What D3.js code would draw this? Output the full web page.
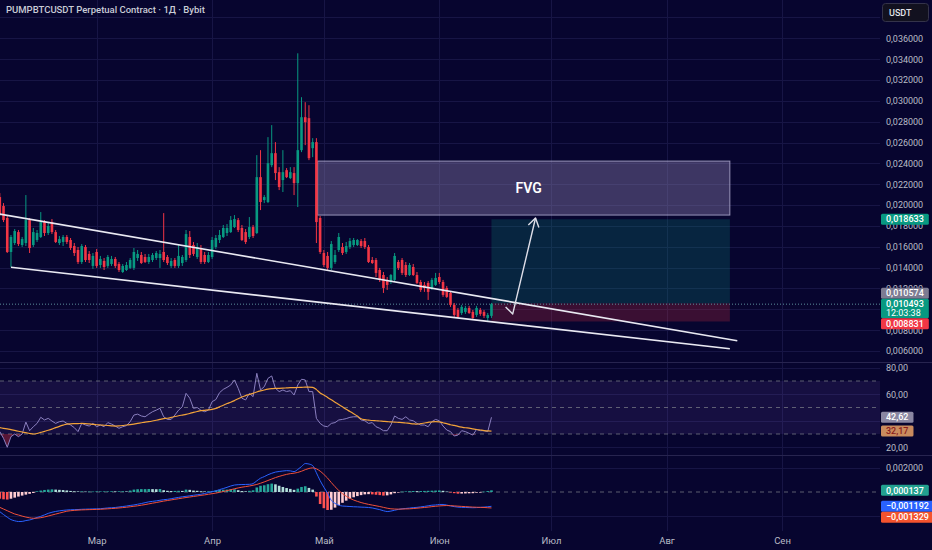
<!DOCTYPE html>
<html>
<head>
<meta charset="utf-8">
<script src="https://cdn.jsdelivr.net/npm/d3@7"></script>
<style>
  html, body { margin: 0; padding: 0; background: #07052f; }
  svg { display: block; }
</style>
</head>
<body>
<svg id="chart" width="932" height="550"></svg>
<script>
// daily candles, the first one is cut by the left edge
const firstDay = "2025-02-03";
const title = "PUMPBTCUSDT Perpetual Contract · 1Д · Bybit";
const countdown = "12:03:38";

const opens = [0.02077,0.01991,0.01876,0.0155,0.01636,0.01741,0.01617,0.01636,0.01856,0.01617,
0.01665,0.01694,0.01837,0.01732,0.01837,0.01741,0.01636,0.01646,0.01694,0.01665,
0.01607,0.01569,0.01454,0.01598,0.01531,0.01416,0.0155,0.01425,0.01464,0.01416,
0.01435,0.01483,0.01435,0.01358,0.01377,0.01397,0.01397,0.01492,0.01521,0.01502,
0.01454,0.01473,0.01492,0.01492,0.0155,0.01502,0.01416,0.01473,0.01416,0.01444,
0.01473,0.01694,0.01617,0.01502,0.01588,0.01521,0.01454,0.01502,0.01598,0.01665,
0.01694,0.01732,0.01741,0.01789,0.01856,0.0178,0.01741,0.01694,0.01789,0.01732,
0.02268,0.02048,0.02029,0.02383,0.02498,0.02316,0.0224,0.02335,0.02259,0.02307,
0.02211,0.02527,0.02843,0.02834,0.02546,0.02604,0.01876,0.0154,0.01512,0.01397,
0.01454,0.01569,0.01598,0.0155,0.01598,0.01617,0.01617,0.01655,0.01655,0.01598,
0.01473,0.01473,0.01377,0.01329,0.01282,0.01262,0.01282,0.01454,0.01473,0.01425,
0.01329,0.01406,0.01329,0.01262,0.01234,0.01253,0.01205,0.01234,0.0131,0.01262,
0.01205,0.01157,0.01042,0.00994,0.00965,0.00975,0.01013,0.00975,0.00946,0.00994,
0.00975,0.00917,0.00937];

const highs = [0.02115,0.02019,0.01904,0.01713,0.0177,0.01761,0.01694,0.02096,0.01876,0.0178,
0.01761,0.01933,0.01856,0.01837,0.01866,0.01761,0.01703,0.01713,0.01713,0.01684,
0.01636,0.01598,0.01626,0.01617,0.01559,0.0154,0.01579,0.01512,0.01492,0.01521,
0.01512,0.01502,0.01454,0.01435,0.01454,0.01492,0.01588,0.01569,0.0155,0.01531,
0.01531,0.0154,0.01559,0.01569,0.01923,0.01521,0.01492,0.01492,0.01617,0.01521,
0.01761,0.01751,0.01646,0.01636,0.01617,0.0155,0.0155,0.01694,0.01713,0.01761,
0.01809,0.01818,0.01895,0.01904,0.01876,0.01809,0.0177,0.01885,0.01809,0.02479,
0.02527,0.02096,0.02652,0.02767,0.02604,0.02364,0.02527,0.02355,0.02364,0.02364,
0.03456,0.03035,0.02987,0.02958,0.02642,0.02642,0.01895,0.01569,0.0155,0.01655,
0.01569,0.01732,0.01636,0.01646,0.01684,0.01684,0.01674,0.01674,0.01684,0.01617,
0.01502,0.01492,0.01397,0.01358,0.0131,0.01339,0.0154,0.01473,0.01492,0.01454,
0.01444,0.01435,0.01358,0.01282,0.01262,0.01272,0.01301,0.01349,0.01349,0.01282,
0.01224,0.01176,0.01061,0.01013,0.01042,0.01033,0.01033,0.00994,0.01033,0.01013,
0.00994,0.00965,0.01061];

const lows = [0.01895,0.01837,0.0154,0.01406,0.01617,0.01607,0.01598,0.01607,0.0154,0.01598,
0.01646,0.01684,0.01703,0.01713,0.01722,0.01636,0.01617,0.01607,0.01626,0.01569,
0.01512,0.01435,0.01435,0.01454,0.01444,0.01387,0.01397,0.01397,0.01377,0.01397,
0.01416,0.01397,0.01358,0.01349,0.01368,0.01387,0.01377,0.01464,0.01435,0.01444,
0.01435,0.01454,0.01473,0.01397,0.01454,0.01425,0.01397,0.01397,0.01397,0.01416,
0.01454,0.01492,0.01512,0.01483,0.01435,0.01435,0.01444,0.01483,0.01579,0.01636,
0.01684,0.01703,0.01732,0.0178,0.01741,0.01655,0.01626,0.01674,0.01684,0.01722,
0.01952,0.02019,0.02019,0.02364,0.0224,0.02144,0.02125,0.02259,0.02249,0.02096,
0.01981,0.02508,0.02575,0.02431,0.0246,0.01636,0.01531,0.01406,0.01377,0.01377,
0.01435,0.0155,0.01521,0.01531,0.01579,0.01598,0.01607,0.01588,0.01579,0.01444,
0.01435,0.0131,0.01262,0.01157,0.01186,0.01243,0.01272,0.01377,0.01329,0.0131,
0.0132,0.0132,0.01243,0.01167,0.01167,0.0109,0.01186,0.01224,0.01243,0.01119,
0.01109,0.01023,0.00927,0.00917,0.00946,0.00956,0.00956,0.00908,0.00927,0.00937,
0.00917,0.00889,0.00917];

const closes = [0.01914,0.01856,0.0155,0.01694,0.01751,0.01626,0.01674,0.01856,0.01588,0.01741,
0.01732,0.01837,0.01732,0.01799,0.01741,0.01646,0.01674,0.01694,0.01646,0.01588,
0.0154,0.01454,0.01607,0.01473,0.01473,0.01512,0.01416,0.01483,0.01406,0.01502,
0.01483,0.01416,0.01377,0.01416,0.01425,0.01473,0.0155,0.01531,0.01444,0.01454,
0.01502,0.01521,0.0154,0.01531,0.01473,0.01444,0.01464,0.01416,0.01512,0.01502,
0.01722,0.01521,0.01531,0.01598,0.01454,0.01454,0.01521,0.01665,0.01684,0.01713,
0.0178,0.0178,0.01856,0.01866,0.01761,0.01665,0.01646,0.01789,0.01703,0.02268,
0.02029,0.02077,0.02402,0.02498,0.02307,0.02173,0.02316,0.02268,0.02316,0.02211,
0.02527,0.02843,0.02795,0.0245,0.02604,0.01837,0.0155,0.01425,0.01397,0.01626,
0.01521,0.01694,0.0154,0.01607,0.01655,0.01665,0.01665,0.01607,0.01598,0.01454,
0.01444,0.01349,0.01282,0.01205,0.01234,0.01329,0.01512,0.01397,0.01349,0.01329,
0.01425,0.01329,0.01253,0.01186,0.01205,0.01167,0.01282,0.01301,0.01262,0.01138,
0.01119,0.01042,0.00946,0.00927,0.01023,0.01013,0.00965,0.00917,0.01013,0.00956,
0.00937,0.00946,0.010493];

const rsiValues = [31.8,26.7,20,28,30,28,30,39,32.5,35.5,
38,42.6,40.6,41.8,39.8,38,39.3,39.8,38,36.8,
34.8,31.8,38,36.8,36,38,35.5,36.8,35.5,38.6,
37.5,36,34.3,35.5,36.3,39.3,44.3,45,43.6,43,
45,46.8,48,49.4,43,41,41,44.3,48,50.6,
60.7,57,49.4,50,48,46.8,48,54.4,56,61.2,
63.7,65.2,67,70.8,64.5,57,55.7,60.7,58.2,75.8,
63.2,65.7,72,73.8,64.5,62,63.2,62,62.7,59.4,
67,71.3,70.8,62,62,41.8,38,36,35.5,38,
38.6,40.6,41,41.6,42.6,43,43,40.6,40,38,
38.6,35.5,34.3,32.5,32.5,36.8,43.6,41.8,41,43,
40.6,40,38,36.8,36.8,35.5,39.3,41,40,36,
33,31.8,28.5,29.2,32.5,31.8,30.5,29.2,33.5,32.5,
32.5,31.8,42.62];

const rsiMaValues = [34.8,34.3,33.8,33.3,32.7,32.1,31.5,31,30.4,30,
30.4,31.2,32,32.8,33.7,34.8,35.8,36.7,37.5,37.7,
37.8,37.9,38,37.9,37.6,37.3,37,36.8,36.6,36.4,
36.2,36,36.1,36.4,36.8,37.1,37.5,38,38.5,39,
39.3,39.8,40.4,41,41.6,41.9,42.5,43.2,43.8,44.3,
44.8,45.5,46.3,47,47.6,47.9,48.2,48.6,49.3,50.5,
51.7,53,54,55.2,56.6,57.9,59,59.8,60.7,61.7,
62.5,63.2,63.8,64.2,64.5,64.5,64.6,64.8,65,65,
65.1,65.2,65.4,65.4,65.2,63.5,61,59.4,57.6,55.8,
54,52.3,50.5,48.6,47,45.3,43.5,41.5,40.8,40.5,
40.2,40,39.8,39.6,39.4,39.1,39,38.8,38.6,38.3,
38,37.7,37.5,37.8,38.3,38.8,39.2,39.3,39.2,38.5,
37.8,37,36.5,35.8,35.2,34.7,34.4,33.9,33.4,33,
32.6,32.3,32.17];

const macdValues = [-0.00164,-0.00188,-0.0021,-0.0023,-0.0024,-0.00246,-0.00245,-0.00238,-0.00233,-0.00224,
-0.00212,-0.00203,-0.00191,-0.00178,-0.00169,-0.00162,-0.00157,-0.00153,-0.0015,-0.00148,
-0.00147,-0.00146,-0.00144,-0.00143,-0.00142,-0.00141,-0.0014,-0.00139,-0.00136,-0.00133,
-0.00131,-0.00129,-0.00125,-0.00121,-0.00117,-0.00112,-0.00108,-0.00102,-0.00096,-0.00089,
-0.00082,-0.00078,-0.00074,-0.00069,-0.00064,-0.00061,-0.00056,-0.0005,-0.00045,-0.0004,
-0.00036,-0.00032,-0.00027,-0.00023,-0.00019,-0.00012,-0.00005,0.00003,0.00009,0.0002,
0.00029,0.00039,0.0005,0.00058,0.00061,0.00062,0.00063,0.00064,0.0007,0.00093,
0.00115,0.00128,0.00144,0.00156,0.00166,0.00171,0.00175,0.00178,0.00176,0.0017,
0.00188,0.00212,0.00237,0.00233,0.0022,0.0016,0.00095,0.0004,-0.0001,-0.0007,
-0.00095,-0.0011,-0.00117,-0.00119,-0.00121,-0.00123,-0.00124,-0.00126,-0.00127,-0.00129,
-0.00133,-0.0014,-0.00147,-0.00156,-0.00163,-0.00159,-0.00152,-0.00145,-0.0014,-0.00137,
-0.00134,-0.0013,-0.00128,-0.00124,-0.0012,-0.00115,-0.0011,-0.00108,-0.00104,-0.00104,
-0.00109,-0.00116,-0.00122,-0.00126,-0.00128,-0.00129,-0.0013,-0.00131,-0.0013,-0.00128,
-0.00126,-0.00123,-0.001192];

const signalValues = [-0.00128,-0.00142,-0.00156,-0.0017,-0.00183,-0.00192,-0.00201,-0.00209,-0.00215,-0.00219,
-0.00218,-0.00214,-0.00208,-0.002,-0.00192,-0.00184,-0.00176,-0.00168,-0.0016,-0.00156,
-0.00153,-0.00151,-0.00149,-0.00148,-0.00147,-0.00146,-0.00145,-0.00144,-0.00142,-0.0014,
-0.00138,-0.00136,-0.00133,-0.0013,-0.00127,-0.00123,-0.00119,-0.00115,-0.0011,-0.00105,
-0.00099,-0.00093,-0.00088,-0.00082,-0.00076,-0.00071,-0.00066,-0.00061,-0.00056,-0.00051,
-0.00046,-0.00042,-0.00037,-0.00033,-0.00028,-0.00024,-0.00019,-0.00014,-0.00009,-0.00003,
0.00004,0.00011,0.00019,0.00027,0.00034,0.0004,0.00045,0.0005,0.00056,0.00063,
0.00073,0.00084,0.00096,0.00108,0.0012,0.0013,0.00139,0.00147,0.00153,0.00157,
0.00163,0.00173,0.00186,0.00196,0.00201,0.00193,0.00174,0.00147,0.00116,0.00079,
0.00044,0.00013,-0.00014,-0.00035,-0.00053,-0.00067,-0.00078,-0.00088,-0.00096,-0.00103,
-0.00109,-0.00115,-0.00121,-0.00128,-0.00135,-0.0014,-0.00142,-0.00143,-0.00142,-0.00141,
-0.0014,-0.00138,-0.00135,-0.00132,-0.00129,-0.00126,-0.00122,-0.00119,-0.00116,-0.00114,
-0.00113,-0.00114,-0.00116,-0.00118,-0.0012,-0.00122,-0.00124,-0.00126,-0.00127,-0.00128,
-0.00129,-0.00131,-0.001329];

const histValues = [-0.00056,-0.00061,-0.00063,-0.00056,-0.00047,-0.00038,-0.0003,-0.00022,-0.00015,-0.00008,
0.00006,0.00012,0.00017,0.0002,0.00022,0.0002,0.00018,0.00016,0.00013,0.00009,
0.00006,0.00005,0.00005,0.00004,0.00004,0.00004,0.00005,0.00005,0.00005,0.00005,
0.00006,0.00005,0.00006,0.00006,0.00005,0.00012,0.0002,0.00023,0.00024,0.00024,
0.00025,0.00024,0.00023,0.00025,0.00015,0.0001,0.00008,0.00009,0.0001,0.00009,
0.0002,0.00018,0.00012,0.0001,0.00006,0.00005,0.00006,0.00008,0.00013,0.00018,
0.00019,0.0002,0.00023,0.00023,0.00015,0.00008,0.00006,0.0001,0.00014,0.00038,
0.00052,0.00056,0.00065,0.0007,0.00064,0.00052,0.00042,0.00033,0.00026,0.00018,
0.00028,0.00042,0.00048,0.00034,0.0002,-0.00038,-0.001,-0.00135,-0.0015,-0.00148,
-0.0013,-0.0011,-0.0009,-0.00072,-0.00056,-0.00044,-0.00034,-0.00026,-0.0002,-0.00018,
-0.0002,-0.00023,-0.00026,-0.0003,-0.00028,-0.0002,-0.0001,-0.00002,0.00003,0.00005,
0.00007,0.00008,0.00007,0.00008,0.00009,0.0001,0.00011,0.00012,0.00013,0.0001,
0.00004,-0.00004,-0.0001,-0.00014,-0.00013,-0.00012,-0.00011,-0.0001,-0.00006,-0.00002,
0.00003,0.00008,0.000137];

const months = ["2025-03-01","2025-04-01","2025-05-01","2025-06-01","2025-07-01","2025-08-01","2025-09-01"];
const monthNames = ["Мар","Апр","Май","Июн","Июл","Авг","Сен"];
const priceTicks = [0.006,0.008,0.01,0.012,0.014,0.016,0.018,0.02,0.022,0.024,0.026,0.028,0.03,0.032,0.034,0.036,0.038];
const rsiTicks = [20, 40, 60, 80];
const rsiLevels = [70, 50, 30];
const macdTicks = [-0.002, 0, 0.002];

// drawings on the chart (date, price)
const upperTrend = [["2025-02-03T00:00", 0.01913], ["2025-08-20T00:00", 0.00699]];
const lowerTrend = [["2025-02-06T00:00", 0.01403], ["2025-08-18T00:00", 0.00621]];
const fvg = { from: "2025-04-29T08:00", to: "2025-08-18T00:00", top: 0.02422, bottom: 0.01904, label: "FVG", labelAt: "2025-06-25T00:00" };
const position = { from: "2025-06-15T00:00", to: "2025-08-18T00:00", entry: 0.010574, target: 0.018633, stop: 0.008831 };
const arrowPath = [["2025-06-18T19:00", 0.01023], ["2025-06-20T17:00", 0.00956], ["2025-06-26T20:00", 0.01876]];

// ---------------------------------------------------------------
const W = 932, H = 550, chartW = 880;
const font = "Roboto, 'Noto Sans', sans-serif";
const svg = d3.select("#chart").attr("font-family", font);
svg.append("rect").attr("width", W).attr("height", H).attr("fill", "#07052f");

const day = d3.utcParse("%Y-%m-%d");
const stamp = d3.utcParse("%Y-%m-%dT%H:%M");
const dates = d3.utcDay.range(day(firstDay), d3.utcDay.offset(day(firstDay), closes.length));
const bars = dates.map((date, i) => ({
  date, o: opens[i], h: highs[i], l: lows[i], c: closes[i],
  rsi: rsiValues[i], rsiMa: rsiMaValues[i],
  macd: macdValues[i], signal: signalValues[i], hist: histValues[i]
}));
const last = bars[bars.length - 1];

const x = d3.scaleUtc().domain([day("2025-02-03"), day("2025-09-01")]).range([-0.2, 782]);
const y = d3.scaleLinear().domain([0.006, 0.036]).range([351, 38.3]);
const yR = d3.scaleLinear().domain([30, 70]).range([434, 381]);
const yM = d3.scaleLinear().domain([-0.002, 0.002]).range([516, 468]);

const ru = d3.formatLocale({ decimal: ",", thousands: " ", grouping: [3], currency: ["", ""], minus: "\u2212" });
const fPrice = ru.format(".6f");
const fRsi = ru.format(".2f");

const defs = svg.append("defs");
function clip(id, y0, y1) {
  defs.append("clipPath").attr("id", id).append("rect")
    .attr("x", 0).attr("y", y0).attr("width", chartW).attr("height", y1 - y0);
}
clip("cMain", 0, 362);
clip("cRsi", 363, 455);
clip("cMacd", 456, 531);

// grid
const gridColor = "#171545";
const grid = svg.append("g").attr("stroke", gridColor).attr("stroke-width", 1);
grid.selectAll("line.v").data(months).join("line").attr("class", "v")
  .attr("x1", d => Math.round(x(day(d))) + 0.5).attr("x2", d => Math.round(x(day(d))) + 0.5)
  .attr("y1", 0).attr("y2", 531);
grid.selectAll("line.p").data(priceTicks).join("line").attr("class", "p")
  .attr("x1", 0).attr("x2", chartW)
  .attr("y1", d => Math.round(y(d)) + 0.5).attr("y2", d => Math.round(y(d)) + 0.5);
grid.selectAll("line.r").data(rsiTicks).join("line").attr("class", "r")
  .attr("x1", 0).attr("x2", chartW)
  .attr("y1", d => Math.round(yR(d)) + 0.5).attr("y2", d => Math.round(yR(d)) + 0.5);
grid.selectAll("line.m").data(macdTicks.filter(d => d !== 0)).join("line").attr("class", "m")
  .attr("x1", 0).attr("x2", chartW)
  .attr("y1", d => Math.round(yM(d)) + 0.5).attr("y2", d => Math.round(yM(d)) + 0.5);

// pane separators
svg.append("g").attr("stroke", "#27244f").selectAll("line").data([362.5, 455.5]).join("line")
  .attr("x1", 0).attr("x2", W).attr("y1", d => d).attr("y2", d => d);

// ---------------- main pane ----------------
const main = svg.append("g").attr("clip-path", "url(#cMain)");

// long position tool
const px0 = x(stamp(position.from)), px1 = x(stamp(position.to));
main.append("rect").attr("x", px0).attr("width", px1 - px0)
  .attr("y", y(position.target)).attr("height", y(position.entry) - y(position.target))
  .attr("fill", "rgba(8,153,129,0.22)");
main.append("rect").attr("x", px0).attr("width", px1 - px0)
  .attr("y", y(position.entry)).attr("height", y(position.stop) - y(position.entry))
  .attr("fill", "rgba(242,54,69,0.22)");

// FVG zone
const fx0 = x(stamp(fvg.from)), fx1 = x(stamp(fvg.to));
main.append("rect").attr("x", fx0).attr("width", fx1 - fx0)
  .attr("y", y(fvg.top)).attr("height", y(fvg.bottom) - y(fvg.top))
  .attr("fill", "rgba(135,125,172,0.42)").attr("stroke", "rgba(190,185,220,0.75)").attr("stroke-width", 1);
main.append("text").attr("x", x(stamp(fvg.labelAt))).attr("y", y((fvg.top + fvg.bottom) / 2))
  .attr("text-anchor", "middle").attr("dy", "0.36em")
  .attr("fill", "#ffffff").attr("font-size", 14).attr("font-weight", 600).text(fvg.label);

// last price line
main.append("line").attr("x1", 0).attr("x2", chartW)
  .attr("y1", y(last.c)).attr("y2", y(last.c))
  .attr("stroke", "#5d8f9c").attr("stroke-width", 1).attr("stroke-dasharray", "1,2");

// candles
const up = "#089981", down = "#f23645";
const candles = main.append("g").selectAll("g").data(bars).join("g")
  .attr("fill", d => d.c >= d.o ? up : down)
  .attr("stroke", d => d.c >= d.o ? up : down);
candles.append("line")
  .attr("x1", d => x(d.date)).attr("x2", d => x(d.date))
  .attr("y1", d => y(d.h)).attr("y2", d => y(d.l)).attr("stroke-width", 1);
candles.append("rect").attr("stroke", "none")
  .attr("x", d => x(d.date) - 1.3).attr("width", 2.6)
  .attr("y", d => y(Math.max(d.o, d.c)))
  .attr("height", d => Math.max(1, Math.abs(y(d.o) - y(d.c))));

// trend lines
const pLine = d3.line().x(d => x(stamp(d[0]))).y(d => y(d[1]));
main.selectAll("path.trend").data([upperTrend, lowerTrend]).join("path").attr("class", "trend")
  .attr("d", pLine).attr("fill", "none").attr("stroke", "#e9e9f2").attr("stroke-width", 1.6);

// arrow drawing
const pts = arrowPath.map(d => [x(stamp(d[0])), y(d[1])]);
const [ax, ay] = pts[pts.length - 2], [bx, by] = pts[pts.length - 1];
const ang = Math.atan2(by - ay, bx - ax), hl = 10, hs = Math.PI / 5.5;
main.append("path").attr("d", d3.line()(pts)).attr("fill", "none")
  .attr("stroke", "#dedee8").attr("stroke-width", 1.4).attr("stroke-linejoin", "round");
main.append("path").attr("d", d3.line()([
  [bx - hl * Math.cos(ang - hs), by - hl * Math.sin(ang - hs)], [bx, by],
  [bx - hl * Math.cos(ang + hs), by - hl * Math.sin(ang + hs)]
])).attr("fill", "none").attr("stroke", "#dedee8").attr("stroke-width", 1.4).attr("stroke-linejoin", "round");

// ---------------- RSI pane ----------------
const rsiG = svg.append("g").attr("clip-path", "url(#cRsi)");
rsiG.append("rect").attr("x", 0).attr("width", chartW)
  .attr("y", yR(70)).attr("height", yR(30) - yR(70)).attr("fill", "rgba(126,87,194,0.13)");
rsiG.selectAll("line.lvl").data(rsiLevels).join("line").attr("class", "lvl")
  .attr("x1", 0).attr("x2", chartW).attr("y1", d => yR(d)).attr("y2", d => yR(d))
  .attr("stroke", "#787b86").attr("stroke-opacity", 0.75).attr("stroke-dasharray", "4,4");
rsiG.append("path").datum(bars)
  .attr("d", d3.area().x(d => x(d.date)).y0(yR(30)).y1(d => yR(Math.min(d.rsi, 30))))
  .attr("fill", "rgba(242,54,69,0.35)");
rsiG.append("path").datum(bars)
  .attr("d", d3.line().x(d => x(d.date)).y(d => yR(d.rsi)))
  .attr("fill", "none").attr("stroke", "#8a7fbf").attr("stroke-width", 1);
rsiG.append("path").datum(bars)
  .attr("d", d3.line().curve(d3.curveMonotoneX).x(d => x(d.date)).y(d => yR(d.rsiMa)))
  .attr("fill", "none").attr("stroke", "#f2a33a").attr("stroke-width", 1.2);

// ---------------- MACD pane ----------------
const macdG = svg.append("g").attr("clip-path", "url(#cMacd)");
macdG.append("line").attr("x1", 0).attr("x2", chartW).attr("y1", yM(0)).attr("y2", yM(0))
  .attr("stroke", "#787b86").attr("stroke-opacity", 0.75).attr("stroke-dasharray", "4,4");
function histColor(d, i) {
  const prev = i > 0 ? bars[i - 1].hist : d.hist;
  if (d.hist >= 0) return d.hist >= prev ? "#26a69a" : "#b2dfdb";
  return d.hist <= prev ? "#ff5252" : "#ffcdd2";
}
macdG.selectAll("rect.h").data(bars).join("rect").attr("class", "h")
  .attr("x", d => x(d.date) - 1.3).attr("width", 2.6)
  .attr("y", d => Math.min(yM(0), yM(d.hist)))
  .attr("height", d => Math.max(0.6, Math.abs(yM(d.hist) - yM(0))))
  .attr("fill", histColor);
macdG.append("path").datum(bars)
  .attr("d", d3.line().curve(d3.curveMonotoneX).x(d => x(d.date)).y(d => yM(d.macd)))
  .attr("fill", "none").attr("stroke", "#2962ff").attr("stroke-width", 1);
macdG.append("path").datum(bars)
  .attr("d", d3.line().curve(d3.curveMonotoneX).x(d => x(d.date)).y(d => yM(d.signal)))
  .attr("fill", "none").attr("stroke", "#f0503a").attr("stroke-width", 1);

// ---------------- axes ----------------
function rightAxis(scale, ticks, fmt) {
  const g = svg.append("g").attr("transform", `translate(${chartW},0)`)
    .call(d3.axisRight(scale).tickValues(ticks).tickFormat(fmt).tickSize(0).tickPadding(6));
  g.select(".domain").remove();
  g.attr("font-family", font).attr("font-size", 9).attr("color", "#b8bbc6");
  g.selectAll(".tick").each(function (d) { this.__y = scale(d); });
  return g;
}
const axes = [rightAxis(y, priceTicks, fPrice), rightAxis(yR, rsiTicks, fRsi), rightAxis(yM, macdTicks, fPrice)];

const tAxis = svg.append("g").attr("transform", "translate(0,531)")
  .call(d3.axisBottom(x).tickValues(months.map(day)).tickFormat((d, i) => monthNames[i]).tickSize(0).tickPadding(6));
tAxis.select(".domain").remove();
tAxis.attr("font-family", font).attr("font-size", 9.5).attr("color", "#b8bbc6");

// currency box (covers the top of the price scale)
const covered = [[3.5, 21.5]];
svg.append("rect").attr("x", 882.5).attr("y", 3.5).attr("width", 46).attr("height", 18).attr("rx", 3)
  .attr("fill", "#12111f").attr("stroke", "#34334a");
svg.append("text").attr("x", 889).attr("y", 12.5).attr("dy", "0.35em").attr("font-size", 9)
  .attr("font-weight", 500).attr("fill", "#e2e4ea").text("USDT");

// title
svg.append("text").attr("x", 6).attr("y", 10).attr("dy", "0.35em").attr("font-size", 9.5)
  .attr("font-weight", 500).attr("fill", "#c9ccd6").text(title);

// value tags on the price scale
function spread(tags) {
  tags.forEach(t => { t.cy = t.y0; t.up = 5; t.down = t.sub ? 13.5 : 5; });
  const s = tags.slice().sort((a, b) => a.cy - b.cy);
  let k = s.findIndex(t => t.fixed);
  if (k < 0) k = 0;
  for (let i = k + 1; i < s.length; i++) {
    const p = s[i - 1], t = s[i], m = p.cy + p.down + 1 + t.up;
    if (t.cy < m) t.cy = m;
  }
  for (let i = k - 1; i >= 0; i--) {
    const n = s[i + 1], t = s[i], m = n.cy - n.up - 1 - t.down;
    if (t.cy > m) t.cy = m;
  }
  return tags;
}
function drawTags(tags) {
  spread(tags).forEach(t => {
    const g = svg.append("g");
    const txt = g.append("text").attr("x", 886).attr("y", t.cy).attr("dy", "0.35em")
      .attr("font-size", 9).attr("font-weight", 500).attr("fill", t.color || "#ffffff").text(t.text);
    if (t.sub) {
      g.append("text").attr("x", 886).attr("y", t.cy + 9).attr("dy", "0.35em")
        .attr("font-size", 9).attr("fill", "#ffffff").text(t.sub);
    }
    const w = txt.node().getComputedTextLength();
    g.insert("rect", "text").attr("x", 881).attr("y", t.cy - t.up - 0.5)
      .attr("width", w + 10).attr("height", t.up + t.down + 1).attr("rx", 1.5).attr("fill", t.fill);
    covered.push([t.cy - t.up - 0.5, t.cy + t.down + 0.5]);
  });
}
drawTags([
  { y0: y(position.target), text: fPrice(position.target), fill: "#089981" },
  { y0: y(position.entry), text: fPrice(position.entry), fill: "#7d7b92" },
  { y0: y(last.c), text: fPrice(last.c), fill: "#089981", sub: countdown, fixed: true },
  { y0: y(position.stop), text: fPrice(position.stop), fill: "#f23645" }
]);
drawTags([
  { y0: yR(last.rsi), text: fRsi(last.rsi), fill: "#8a87a2", fixed: true },
  { y0: yR(last.rsiMa), text: fRsi(last.rsiMa), fill: "#c98b5e", color: "#8a1c1c" }
]);
drawTags([
  { y0: yM(last.hist), text: fPrice(last.hist), fill: "#22a08f" },
  { y0: yM(last.macd), text: fPrice(last.macd), fill: "#2962ff", fixed: true },
  { y0: yM(last.signal), text: fPrice(last.signal), fill: "#f4532e" }
]);

// scale labels that sit under a tag are hidden by it, as on the price scale
axes.forEach(g => g.selectAll(".tick").each(function () {
  const ty = this.__y;
  if (covered.some(([a, b]) => ty > a + 1.5 && ty < b - 1.5)) d3.select(this).remove();
}));
</script>
</body>
</html>
